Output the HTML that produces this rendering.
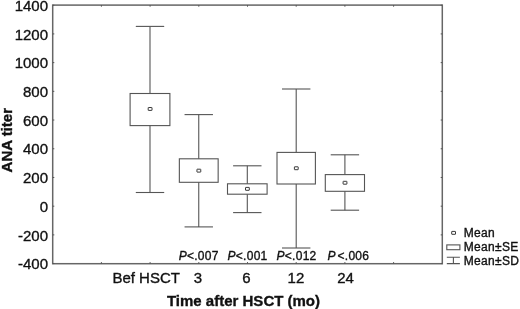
<!DOCTYPE html>
<html><head><meta charset="utf-8"><style>
html,body{margin:0;padding:0;background:#fff;}
body{width:520px;height:309px;overflow:hidden;}
svg{display:block;will-change:transform;}
text{font-family:"Liberation Sans",sans-serif;fill:#111;stroke:#111;stroke-width:0.35px;}
</style></head><body>
<svg width="520" height="309" viewBox="0 0 520 309">
<rect x="52.7" y="5.1" width="389.60" height="258.60" fill="none" stroke="#666" stroke-width="1.5"/>
<line x1="101.40" y1="5.1" x2="101.40" y2="6.699999999999999" stroke="#555" stroke-width="1"/>
<line x1="101.40" y1="263.7" x2="101.40" y2="262.09999999999997" stroke="#555" stroke-width="1"/>
<line x1="150.10" y1="5.1" x2="150.10" y2="6.699999999999999" stroke="#555" stroke-width="1"/>
<line x1="150.10" y1="263.7" x2="150.10" y2="262.09999999999997" stroke="#555" stroke-width="1"/>
<line x1="198.80" y1="5.1" x2="198.80" y2="6.699999999999999" stroke="#555" stroke-width="1"/>
<line x1="198.80" y1="263.7" x2="198.80" y2="262.09999999999997" stroke="#555" stroke-width="1"/>
<line x1="247.50" y1="5.1" x2="247.50" y2="6.699999999999999" stroke="#555" stroke-width="1"/>
<line x1="247.50" y1="263.7" x2="247.50" y2="262.09999999999997" stroke="#555" stroke-width="1"/>
<line x1="296.20" y1="5.1" x2="296.20" y2="6.699999999999999" stroke="#555" stroke-width="1"/>
<line x1="296.20" y1="263.7" x2="296.20" y2="262.09999999999997" stroke="#555" stroke-width="1"/>
<line x1="344.90" y1="5.1" x2="344.90" y2="6.699999999999999" stroke="#555" stroke-width="1"/>
<line x1="344.90" y1="263.7" x2="344.90" y2="262.09999999999997" stroke="#555" stroke-width="1"/>
<line x1="393.60" y1="5.1" x2="393.60" y2="6.699999999999999" stroke="#555" stroke-width="1"/>
<line x1="393.60" y1="263.7" x2="393.60" y2="262.09999999999997" stroke="#555" stroke-width="1"/>
<line x1="52.7" y1="263.60" x2="54.300000000000004" y2="263.60" stroke="#555" stroke-width="1"/>
<line x1="442.3" y1="263.60" x2="440.7" y2="263.60" stroke="#555" stroke-width="1"/>
<text x="48.0" y="269.30" text-anchor="end" font-size="15">-400</text>
<line x1="52.7" y1="234.89" x2="54.300000000000004" y2="234.89" stroke="#555" stroke-width="1"/>
<line x1="442.3" y1="234.89" x2="440.7" y2="234.89" stroke="#555" stroke-width="1"/>
<text x="48.0" y="240.59" text-anchor="end" font-size="15">-200</text>
<line x1="52.7" y1="206.18" x2="54.300000000000004" y2="206.18" stroke="#555" stroke-width="1"/>
<line x1="442.3" y1="206.18" x2="440.7" y2="206.18" stroke="#555" stroke-width="1"/>
<text x="48.0" y="211.88" text-anchor="end" font-size="15">0</text>
<line x1="52.7" y1="177.47" x2="54.300000000000004" y2="177.47" stroke="#555" stroke-width="1"/>
<line x1="442.3" y1="177.47" x2="440.7" y2="177.47" stroke="#555" stroke-width="1"/>
<text x="48.0" y="183.17" text-anchor="end" font-size="15">200</text>
<line x1="52.7" y1="148.76" x2="54.300000000000004" y2="148.76" stroke="#555" stroke-width="1"/>
<line x1="442.3" y1="148.76" x2="440.7" y2="148.76" stroke="#555" stroke-width="1"/>
<text x="48.0" y="154.46" text-anchor="end" font-size="15">400</text>
<line x1="52.7" y1="120.04" x2="54.300000000000004" y2="120.04" stroke="#555" stroke-width="1"/>
<line x1="442.3" y1="120.04" x2="440.7" y2="120.04" stroke="#555" stroke-width="1"/>
<text x="48.0" y="125.74" text-anchor="end" font-size="15">600</text>
<line x1="52.7" y1="91.33" x2="54.300000000000004" y2="91.33" stroke="#555" stroke-width="1"/>
<line x1="442.3" y1="91.33" x2="440.7" y2="91.33" stroke="#555" stroke-width="1"/>
<text x="48.0" y="97.03" text-anchor="end" font-size="15">800</text>
<line x1="52.7" y1="62.62" x2="54.300000000000004" y2="62.62" stroke="#555" stroke-width="1"/>
<line x1="442.3" y1="62.62" x2="440.7" y2="62.62" stroke="#555" stroke-width="1"/>
<text x="48.0" y="68.32" text-anchor="end" font-size="15">1000</text>
<line x1="52.7" y1="33.91" x2="54.300000000000004" y2="33.91" stroke="#555" stroke-width="1"/>
<line x1="442.3" y1="33.91" x2="440.7" y2="33.91" stroke="#555" stroke-width="1"/>
<text x="48.0" y="39.61" text-anchor="end" font-size="15">1200</text>
<line x1="52.7" y1="5.20" x2="54.300000000000004" y2="5.20" stroke="#555" stroke-width="1"/>
<line x1="442.3" y1="5.20" x2="440.7" y2="5.20" stroke="#555" stroke-width="1"/>
<text x="48.0" y="10.90" text-anchor="end" font-size="15">1400</text>
<line x1="150.0" y1="26.4" x2="150.0" y2="93.5" stroke="#555" stroke-width="1.1"/>
<line x1="150.0" y1="125.6" x2="150.0" y2="192.5" stroke="#555" stroke-width="1.1"/>
<line x1="135.80" y1="26.4" x2="164.20" y2="26.4" stroke="#555" stroke-width="1.1"/>
<line x1="135.80" y1="192.5" x2="164.20" y2="192.5" stroke="#555" stroke-width="1.1"/>
<rect x="130.10" y="93.5" width="39.80" height="32.10" fill="none" stroke="#555" stroke-width="1.1"/>
<rect x="148.20" y="107.50" width="3.8" height="2.9" rx="0.25" fill="none" stroke="#3a3a3a" stroke-width="1"/>
<line x1="198.75" y1="114.6" x2="198.75" y2="158.8" stroke="#555" stroke-width="1.1"/>
<line x1="198.75" y1="182.3" x2="198.75" y2="226.9" stroke="#555" stroke-width="1.1"/>
<line x1="184.55" y1="114.6" x2="212.95" y2="114.6" stroke="#555" stroke-width="1.1"/>
<line x1="184.55" y1="226.9" x2="212.95" y2="226.9" stroke="#555" stroke-width="1.1"/>
<rect x="179.35" y="158.8" width="38.80" height="23.50" fill="none" stroke="#555" stroke-width="1.1"/>
<rect x="196.95" y="169.20" width="3.8" height="2.9" rx="0.25" fill="none" stroke="#3a3a3a" stroke-width="1"/>
<line x1="247.3" y1="165.8" x2="247.3" y2="183.8" stroke="#555" stroke-width="1.1"/>
<line x1="247.3" y1="194.2" x2="247.3" y2="212.6" stroke="#555" stroke-width="1.1"/>
<line x1="233.10" y1="165.8" x2="261.50" y2="165.8" stroke="#555" stroke-width="1.1"/>
<line x1="233.10" y1="212.6" x2="261.50" y2="212.6" stroke="#555" stroke-width="1.1"/>
<rect x="227.50" y="183.8" width="39.60" height="10.40" fill="none" stroke="#555" stroke-width="1.1"/>
<rect x="245.50" y="187.40" width="3.8" height="2.9" rx="0.25" fill="none" stroke="#3a3a3a" stroke-width="1"/>
<line x1="296.2" y1="89.0" x2="296.2" y2="152.4" stroke="#555" stroke-width="1.1"/>
<line x1="296.2" y1="184.0" x2="296.2" y2="248.0" stroke="#555" stroke-width="1.1"/>
<line x1="282.00" y1="89.0" x2="310.40" y2="89.0" stroke="#555" stroke-width="1.1"/>
<line x1="282.00" y1="248.0" x2="310.40" y2="248.0" stroke="#555" stroke-width="1.1"/>
<rect x="277.00" y="152.4" width="38.40" height="31.60" fill="none" stroke="#555" stroke-width="1.1"/>
<rect x="294.40" y="166.80" width="3.8" height="2.9" rx="0.25" fill="none" stroke="#3a3a3a" stroke-width="1"/>
<line x1="344.9" y1="154.8" x2="344.9" y2="174.6" stroke="#555" stroke-width="1.1"/>
<line x1="344.9" y1="191.3" x2="344.9" y2="210.2" stroke="#555" stroke-width="1.1"/>
<line x1="330.70" y1="154.8" x2="359.10" y2="154.8" stroke="#555" stroke-width="1.1"/>
<line x1="330.70" y1="210.2" x2="359.10" y2="210.2" stroke="#555" stroke-width="1.1"/>
<rect x="325.30" y="174.6" width="39.20" height="16.70" fill="none" stroke="#555" stroke-width="1.1"/>
<rect x="343.10" y="181.30" width="3.8" height="2.9" rx="0.25" fill="none" stroke="#3a3a3a" stroke-width="1"/>
<text x="146.2" y="283.3" text-anchor="middle" font-size="15">Bef HSCT</text>
<text x="198.0" y="283.3" text-anchor="middle" font-size="15">3</text>
<text x="246.5" y="283.3" text-anchor="middle" font-size="15">6</text>
<text x="295.9" y="283.3" text-anchor="middle" font-size="15">12</text>
<text x="345.6" y="283.3" text-anchor="middle" font-size="15">24</text>
<text x="178.7" y="259.5" font-size="12" letter-spacing="0.25"><tspan font-style="italic">P</tspan>&lt;.007</text>
<text x="227.6" y="259.5" font-size="12" letter-spacing="0.25"><tspan font-style="italic">P</tspan>&lt;.001</text>
<text x="276.6" y="259.5" font-size="12" letter-spacing="0.25"><tspan font-style="italic">P</tspan>&lt;.012</text>
<text x="327.6" y="259.5" font-size="12" letter-spacing="0.25"><tspan font-style="italic">P</tspan><tspan dx="1.7">&lt;</tspan>.006</text>
<text x="243.5" y="305.8" text-anchor="middle" font-size="15" font-weight="bold">Time after HSCT (mo)</text>
<text transform="translate(11.5,140.2) rotate(-90)" text-anchor="middle" font-size="15" font-weight="bold">ANA titer</text>
<rect x="451.7" y="231.4" width="3.8" height="2.9" rx="0.25" fill="none" stroke="#3a3a3a" stroke-width="1"/>
<rect x="446.8" y="244.9" width="13.1" height="4.8" fill="none" stroke="#555" stroke-width="1.1"/>
<path d="M446.8 257.3H459.9M446.8 263.6H459.9M453.4 257.3V263.6" fill="none" stroke="#555" stroke-width="1.1"/>
<text x="463.8" y="237.0" font-size="12" letter-spacing="0.3">Mean</text>
<text x="463.8" y="250.9" font-size="12" letter-spacing="0.3">Mean&#177;SE</text>
<text x="463.8" y="264.8" font-size="12" letter-spacing="0.3">Mean&#177;SD</text>
</svg>
</body></html>
